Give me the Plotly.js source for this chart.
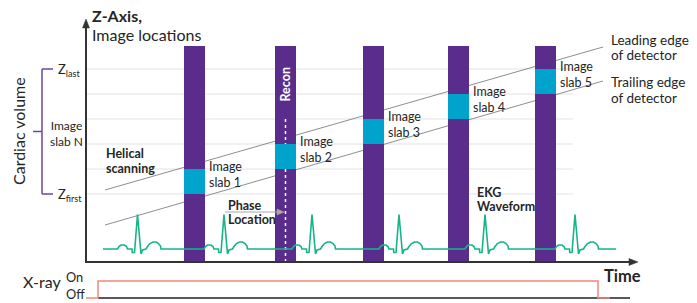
<!DOCTYPE html>
<html><head><meta charset="utf-8">
<script src="https://cdn.plot.ly/plotly-3.0.1.min.js"></script>
<style>html,body{margin:0;padding:0;background:#fff}#chart{width:697px;height:303px}</style>
</head><body><div id="chart"></div>
<script>
// ---------------- data ----------------
const slabNames = ['slab 1', 'slab 2', 'slab 3', 'slab 4', 'slab 5'];
const windowCenters = [1.085, 1.995, 2.875, 3.725, 4.595];   // s, acquisition (X-ray) windows
const windowWidth = 0.21;                                     // s
const windowTop = 6.92;                                       // z
const slabStart = [1, 2, 3, 4, 5];                            // z, lower boundary of each slab
const slabHeight = [1, 1, 1, 1, 1];                           // z
const gridZ = [1, 2, 3, 4, 5, 6];                             // image locations
const gridEnd = 4.87;                                         // s
const rPeakTimes = [0.515, 1.38, 2.26, 3.13, 3.99, 4.89];     // s
const beatT  = [-0.200,-0.185,-0.165,-0.130,-0.110,-0.100,-0.055,-0.053,-0.030,0.000,0.035,0.050,0.085,0.100,0.125,0.155,0.185,0.210,0.230,0.235];
const beatMv = [0,0.071,0.114,0.114,0.071,0,0,-0.10,-0.10,0.986,-0.143,-0.029,0,0.071,0.157,0.20,0.20,0.157,0.086,0];
const ekgStart = 0.17, ekgEnd = 5.30;
const leadingT = [0.19, 5.17],  leadingZ = [1.16, 6.88];
const trailingT = [0.19, 5.17], trailingZ = [-0.24, 5.52];
const reconT = 1.995;
const reconZ = [4, 3, null, 2, -1.72];
const xrayT = [0, 0.12, 5.12, 5.24];
const xrayState = [0, 1, 0, 0];
const xrayAxisT = [0.12, 5.44];

// ---------------- layout helpers ----------------
const W = 697, H = 303;
const px = x => x / W, py = y => 1 - y / H;
const F = 'Lato, "Source Sans Pro", "Open Sans", sans-serif';
const TXT = '#252525';
const Z0 = -1.72, Z1 = 7.96;

// ---------------- traces ----------------
const gx = [], gy = [];
gridZ.forEach(z => { gx.push(0, gridEnd, null); gy.push(z, z, null); });

const ekgT = [ekgStart], ekgMv = [0];
rPeakTimes.forEach(r => beatT.forEach((d, i) => { ekgT.push(+(r + d).toFixed(4)); ekgMv.push(beatMv[i]); }));
ekgT.push(ekgEnd); ekgMv.push(0);

const traces = [
  {type:'scatter', mode:'lines', x:gx, y:gy, xaxis:'x', yaxis:'y', line:{color:'#e3e3e3', width:1}, hoverinfo:'skip'},
  {type:'scatter', mode:'lines', x:leadingT, y:leadingZ, xaxis:'x', yaxis:'y', line:{color:'#8e8e8e', width:1}, hoverinfo:'skip'},
  {type:'scatter', mode:'lines', x:trailingT, y:trailingZ, xaxis:'x', yaxis:'y', line:{color:'#8e8e8e', width:1}, hoverinfo:'skip'},
  {type:'bar', x:windowCenters, y:windowCenters.map(() => windowTop - Z0), base:Z0, width:windowWidth,
   xaxis:'x', yaxis:'y2', marker:{color:'#5a2d8c', line:{width:0}}, hoverinfo:'skip'},
  {type:'bar', x:windowCenters, y:slabHeight, base:slabStart, width:windowWidth,
   xaxis:'x', yaxis:'y2', marker:{color:'#00a3cc', line:{width:0}}, hoverinfo:'skip'},
  {type:'scatter', mode:'lines', x:reconZ.map(v => v === null ? null : reconT), y:reconZ, xaxis:'x', yaxis:'y2',
   line:{color:'#ffffff', width:1.5, dash:'3px,3px'}, hoverinfo:'skip', connectgaps:false},
  {type:'scatter', mode:'lines', x:ekgT, y:ekgMv, xaxis:'x', yaxis:'y3', line:{color:'#17b48a', width:1.6}, hoverinfo:'skip'},
  {type:'scatter', mode:'lines', x:xrayAxisT, y:[0, 0], xaxis:'x', yaxis:'y4', line:{color:'#222', width:1.5}, hoverinfo:'skip'},
  {type:'scatter', mode:'lines', x:xrayT, y:xrayState, xaxis:'x', yaxis:'y4', line:{color:'#f2877a', width:1.5, shape:'hv'}, hoverinfo:'skip'}
];

// ---------------- annotations ----------------
function lab(text, x, y, o) {
  return Object.assign({xref:'paper', yref:'paper', x:px(x), y:py(y), text:text, showarrow:false,
    xanchor:'left', yanchor:'middle', borderpad:0, font:{family:F, size:12.5, color:TXT}}, o || {});
}
const big = s => ({family:F, size:s, color:TXT});
const ann = [
  lab('<b>Z-Axis,</b>', 91, 15, {font:big(16)}),
  lab('Image locations', 91, 35, {font:big(16)}),
  lab('Cardiac volume', 18, 131, {xanchor:'center', textangle:-90, font:big(16)}),
  lab('Z<sub>last</sub>', 57, 70, {font:big(13)}),
  lab('Image<br>slab N', 49, 133, {font:big(12)}),
  lab('Z<sub>first</sub>', 57, 195, {font:big(13)}),
  lab('<b>Helical</b>', 105, 153),
  lab('<b>scanning</b>', 105, 168),
  lab('<b>Phase</b>', 227, 205),
  lab('<b>Location</b>', 227, 219),
  lab('<b>EKG</b>', 476, 192),
  lab('<b>Waveform</b>', 476, 206),
  lab('Leading edge', 610, 40, {font:big(13.5)}),
  lab('of detector', 610, 55, {font:big(13.5)}),
  lab('Trailing edge', 610, 82, {font:big(13.5)}),
  lab('of detector', 610, 98, {font:big(13.5)}),
  lab('<b>Time</b>', 603, 276, {font:big(16.5)}),
  lab('X-ray', 22, 281, {font:big(16)}),
  lab('On<br>Off', 65, 303, {yanchor:'bottom', align:'left', font:big(12.8)}),
  {xref:'x', yref:'paper', x:reconT, y:py(85), text:'<b>Recon</b>', showarrow:false, textangle:-90,
   xanchor:'center', yanchor:'middle', font:{family:F, size:12.5, color:'#ffffff'}}
];
slabNames.forEach((s, i) => {
  const xr = windowCenters[i] + windowWidth / 2, top = slabStart[i] + slabHeight[i];
  ann.push({xref:'x', yref:'y', x:xr, y:top, xshift:3, yshift:-5, text:'Image<br>' + s, showarrow:false,
    xanchor:'left', yanchor:'middle', align:'left', borderpad:0, font:{family:F, size:12.5, color:TXT}});
});

// ---------------- decorations: bracket, axes arrows, pointer ----------------
const BR = '#6d44a6';
const zf = gridZ[0], zl = gridZ[gridZ.length - 1];
const P = pts => 'M' + pts.map(p => px(p[0]).toFixed(5) + ',' + py(p[1]).toFixed(5)).join('L') + 'Z';
const pl = (x0, y0, x1, y1, c, w) => ({type:'line', xref:'paper', yref:'paper', x0:px(x0), y0:py(y0), x1:px(x1), y1:py(y1), line:{color:c, width:w}});
const tri = (pts, c) => ({type:'path', xref:'paper', yref:'paper', path:P(pts), fillcolor:c, line:{color:c, width:0.5}});
const shapes = [
  {type:'line', xref:'paper', yref:'y', x0:px(42), x1:px(42), y0:zf, y1:zl, line:{color:BR, width:1.5}},
  {type:'line', xref:'paper', yref:'y', x0:px(42), x1:px(53), y0:zl, y1:zl, line:{color:BR, width:1.5}},
  {type:'line', xref:'paper', yref:'y', x0:px(42), x1:px(53), y0:zf, y1:zf, line:{color:BR, width:1.5}},
  {type:'line', xref:'paper', yref:'y', x0:px(33), x1:px(42), y0:(zf + zl) / 2, y1:(zf + zl) / 2, line:{color:BR, width:1.5}},
  // axes
  pl(86, 263, 86, 26, '#333', 2),
  pl(85, 262, 631, 262, '#333', 2),
  tri([[86, 19], [82.5, 28], [89.5, 28]], '#333'),
  tri([[638, 262], [629, 258.5], [629, 265.5]], '#333'),
  // phase location pointer
  pl(225, 212, 278, 212, '#a8a8a8', 1),
  tri([[284, 212], [277, 209], [277, 215]], '#a8a8a8')
];

const hidden = {visible:false, fixedrange:true, showgrid:false, zeroline:false};
const layout = {
  width:W, height:H, margin:{l:0, r:0, t:0, b:0},
  paper_bgcolor:'#ffffff', plot_bgcolor:'rgba(0,0,0,0)',
  showlegend:false, barmode:'overlay',
  xaxis:Object.assign({domain:[px(86), px(637)], range:[0, 5.51]}, hidden),
  yaxis:Object.assign({domain:[py(262), py(20)], range:[Z0, Z1]}, hidden),
  yaxis2:Object.assign({overlaying:'y', range:[Z0, Z1]}, hidden),
  yaxis3:Object.assign({overlaying:'y', range:[-0.371, 6.543]}, hidden),
  yaxis4:Object.assign({domain:[py(300), py(279)], range:[-0.1176, 1.1176], anchor:'x'}, hidden),
  annotations:ann, shapes:shapes,
  font:{family:F, color:TXT}
};
Plotly.newPlot('chart', traces, layout, {staticPlot:true, displayModeBar:false});
</script></body></html>
